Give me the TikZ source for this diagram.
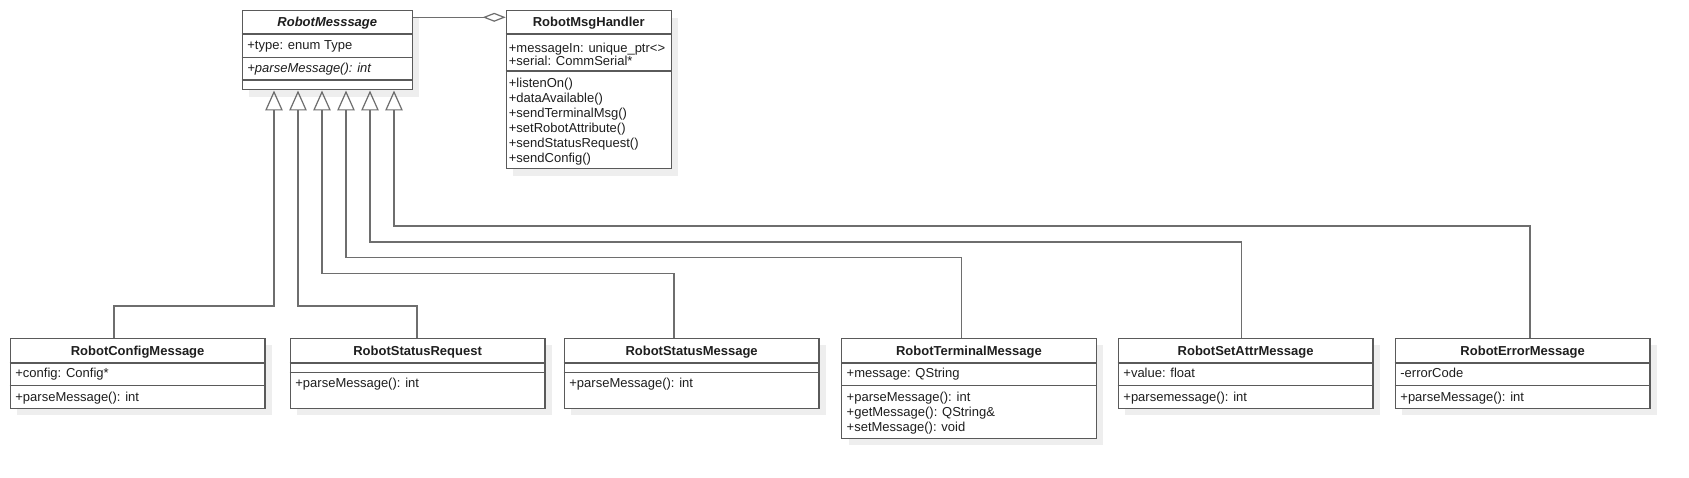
\documentclass[tikz,border=0pt]{standalone}
\usepackage{fontspec}
\setmainfont{Liberation Sans}
\usetikzlibrary{arrows.meta,shadows}
\definecolor{bord}{RGB}{90,90,90}
\definecolor{conn}{RGB}{110,110,110}
\definecolor{txt}{RGB}{30,30,30}
\definecolor{shad}{RGB}{238,238,238}
\newcommand\umldiv[2]{\draw[divline] ([yshift=-#2pt]#1.north west) -- ([yshift=-#2pt]#1.north east);}
\tikzset{
 cls/.style={draw=bord, line width=1.2pt, fill=white, anchor=north west, inner sep=0pt,
   minimum width=254.6pt,
   general shadow={fill=shad, shadow xshift=7pt, shadow yshift=-7pt}},
 divline/.style={draw=bord, line width=1.2pt},
 ttl/.style={anchor=base, inner sep=0pt, font=\fontsize{13}{15}\selectfont\bfseries, text=txt},
 mem/.style={anchor=base west, inner sep=0pt, font=\fontsize{13}{15}\selectfont, text=txt},
 gen/.style={draw=conn, line width=1.2pt, -{Triangle[open, length=20pt, width=17.5pt]}},
 aggr/.style={draw=conn, line width=1.2pt, -{Diamond[open, length=23pt, width=9pt]}},
}
\begin{document}
\begin{tikzpicture}[x=1pt,y=-1pt]
\useasboundingbox (0,0) rectangle (1689,478);
\fill[white] (0,0) rectangle (1689,478);

% class boxes
\node[cls, minimum width=170pt, minimum height=79.3pt] (msg) at (241.7,10) {};
\node[cls, minimum width=165pt, minimum height=158.3pt] (hdl) at (505.7,10) {};
\node[cls, minimum height=70pt] (cfg) at (9.7,337.7) {};
\node[cls, minimum height=70pt] (sreq) at (289.7,337.7) {};
\node[cls, minimum height=70pt] (smsg) at (563.7,337.7) {};
\node[cls, minimum height=100pt] (term) at (841,337.7) {};
\node[cls, minimum height=70pt] (sattr) at (1117.7,337.7) {};
\node[cls, minimum height=70pt] (err) at (1394.7,337.7) {};

% compartments
\umldiv{msg}{24}\umldiv{msg}{47.3}\umldiv{msg}{70}
\umldiv{hdl}{24}\umldiv{hdl}{61}
\umldiv{cfg}{25.3}\umldiv{cfg}{48}
\umldiv{sreq}{25.3}\umldiv{sreq}{34.6}
\umldiv{smsg}{25.3}\umldiv{smsg}{34.6}
\umldiv{term}{25.3}\umldiv{term}{48}
\umldiv{sattr}{25.3}\umldiv{sattr}{48}
\umldiv{err}{25.3}\umldiv{err}{48}

% RobotMesssage
\node[ttl, font=\fontsize{13}{15}\selectfont\bfseries\itshape] (msg-t) at ([yshift=-16.7pt]msg.north) {RobotMesssage};
\node[mem] (msg-a1) at ([xshift=5.5pt,yshift=-40pt]msg.north west) {+type: enum Type};
\node[mem, font=\fontsize{13}{15}\selectfont\itshape] (msg-m1) at ([xshift=5.5pt,yshift=-62.7pt]msg.north west) {+parseMessage(): int};

% RobotMsgHandler
\node[ttl] (hdl-t) at ([yshift=-16.7pt]hdl.north) {RobotMsgHandler};
\node[mem] (hdl-a1) at ([xshift=3pt,yshift=-42.3pt]hdl.north west) {+messageIn: unique\_ptr<>};
\node[mem] (hdl-a2) at ([xshift=3pt,yshift=-55.2pt]hdl.north west) {+serial: CommSerial*};
\node[mem] (hdl-m1) at ([xshift=3pt,yshift=-77.7pt]hdl.north west) {+listenOn()};
\node[mem] (hdl-m2) at ([xshift=3pt,yshift=-92.7pt]hdl.north west) {+dataAvailable()};
\node[mem] (hdl-m3) at ([xshift=3pt,yshift=-107.7pt]hdl.north west) {+sendTerminalMsg()};
\node[mem] (hdl-m4) at ([xshift=3pt,yshift=-122.7pt]hdl.north west) {+setRobotAttribute()};
\node[mem] (hdl-m5) at ([xshift=3pt,yshift=-137.7pt]hdl.north west) {+sendStatusRequest()};
\node[mem] (hdl-m6) at ([xshift=3pt,yshift=-152.7pt]hdl.north west) {+sendConfig()};

% RobotConfigMessage
\node[ttl] (cfg-t) at ([yshift=-17.5pt]cfg.north) {RobotConfigMessage};
\node[mem] (cfg-a1) at ([xshift=5.5pt,yshift=-40pt]cfg.north west) {+config: Config*};
\node[mem] (cfg-m1) at ([xshift=5.5pt,yshift=-63.3pt]cfg.north west) {+parseMessage(): int};

% RobotStatusRequest
\node[ttl] (sreq-t) at ([yshift=-17.5pt]sreq.north) {RobotStatusRequest};
\node[mem] (sreq-m1) at ([xshift=5.5pt,yshift=-50pt]sreq.north west) {+parseMessage(): int};

% RobotStatusMessage
\node[ttl] (smsg-t) at ([yshift=-17.5pt]smsg.north) {RobotStatusMessage};
\node[mem] (smsg-m1) at ([xshift=5.5pt,yshift=-50pt]smsg.north west) {+parseMessage(): int};

% RobotTerminalMessage
\node[ttl] (term-t) at ([yshift=-17.5pt]term.north) {RobotTerminalMessage};
\node[mem] (term-a1) at ([xshift=5.5pt,yshift=-40pt]term.north west) {+message: QString};
\node[mem] (term-m1) at ([xshift=5.5pt,yshift=-63.3pt]term.north west) {+parseMessage(): int};
\node[mem] (term-m2) at ([xshift=5.5pt,yshift=-78.3pt]term.north west) {+getMessage(): QString\&};
\node[mem] (term-m3) at ([xshift=5.5pt,yshift=-93.3pt]term.north west) {+setMessage(): void};

% RobotSetAttrMessage
\node[ttl] (sattr-t) at ([yshift=-17.5pt]sattr.north) {RobotSetAttrMessage};
\node[mem] (sattr-a1) at ([xshift=5.5pt,yshift=-40pt]sattr.north west) {+value: float};
\node[mem] (sattr-m1) at ([xshift=5.5pt,yshift=-63.3pt]sattr.north west) {+parsemessage(): int};

% RobotErrorMessage
\node[ttl] (err-t) at ([yshift=-17.5pt]err.north) {RobotErrorMessage};
\node[mem] (err-a1) at ([xshift=5.5pt,yshift=-40pt]err.north west) {-errorCode};
\node[mem] (err-m1) at ([xshift=5.5pt,yshift=-63.3pt]err.north west) {+parseMessage(): int};

% connector routing coordinates
\coordinate (g1) at (274,0);
\coordinate (g2) at (298,0);
\coordinate (g3) at (322,0);
\coordinate (g4) at (346,0);
\coordinate (g5) at (370,0);
\coordinate (g6) at (394,0);
\coordinate (b1) at (114,306);
\coordinate (b2) at (417,306);
\coordinate (b3) at (674,273.7);
\coordinate (b4) at (961.7,257.7);
\coordinate (b5) at (1241.7,242);
\coordinate (b6) at (1530,226);
\coordinate (ag) at (450,17.3);

% generalisations
\draw[gen] (cfg.north -| b1) -- (b1) -| (msg.south -| g1);
\draw[gen] (sreq.north -| b2) -- (b2) -| (msg.south -| g2);
\draw[gen] (smsg.north -| b3) -- (b3) -| (msg.south -| g3);
\draw[gen] (term.north -| b4) -- (b4) -| (msg.south -| g4);
\draw[gen] (sattr.north -| b5) -- (b5) -| (msg.south -| g5);
\draw[gen] (err.north -| b6) -- (b6) -| (msg.south -| g6);

% aggregation
\draw[aggr] (msg.east |- ag) -- (hdl.west |- ag);
\end{tikzpicture}
\end{document}
